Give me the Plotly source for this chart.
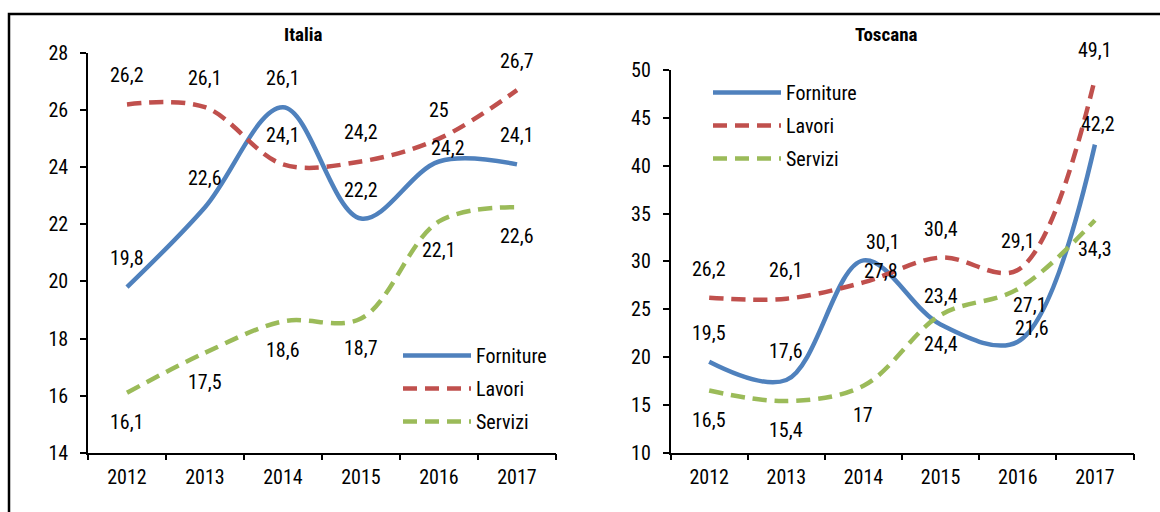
import plotly.graph_objects as go

years = ["2012", "2013", "2014", "2015", "2016", "2017"]

italia_forniture = [19.8, 22.6, 26.1, 22.2, 24.2, 24.1]
italia_lavori = [26.2, 26.1, 24.1, 24.2, 25, 26.7]
italia_servizi = [16.1, 17.5, 18.6, 18.7, 22.1, 22.6]

toscana_forniture = [19.5, 17.6, 30.1, 23.4, 21.6, 42.2]
toscana_lavori = [26.2, 26.1, 27.8, 30.4, 29.1, 49.1]
toscana_servizi = [16.5, 15.4, 17, 24.4, 27.1, 34.3]

series_names = ["Forniture", "Lavori", "Servizi"]
colors = {"Forniture": "#4F81BD", "Lavori": "#C0504D", "Servizi": "#9BBB59"}
dashes = {"Forniture": "solid", "Lavori": "14px,8px", "Servizi": "14px,8px"}
label_side = {"Forniture": 1, "Lavori": 1, "Servizi": -1}
# manual label nudges (panel, series, index) -> (xshift, yshift) in px, as placed in the original
label_nudge = {
    ("Italia", "Forniture", 4): (9, 13),
    ("Toscana", "Forniture", 2): (20, 18),
    ("Toscana", "Lavori", 2): (18, 11),
    ("Toscana", "Forniture", 5): (3, 21),
    ("Toscana", "Forniture", 4): (14, 14),
    ("Toscana", "Servizi", 4): (12, -16),
}

FONT = "Liberation Sans Narrow, Arial Narrow, Roboto Condensed, Roboto, sans-serif"
FS = 20
W, H = 1160, 512


def px_x(p):
    return p / W


def px_y(p):
    return (H - p) / H


fig = go.Figure()
annotations = []

panels = [
    ("Italia", "x", "y", "legend", {"Forniture": italia_forniture, "Lavori": italia_lavori, "Servizi": italia_servizi}),
    ("Toscana", "x2", "y2", "legend2", {"Forniture": toscana_forniture, "Lavori": toscana_lavori, "Servizi": toscana_servizi}),
]

for panel, xa, ya, lg, data in panels:
    for name in series_names:
        vals = data[name]
        fig.add_trace(go.Scatter(
            x=years, y=vals, name=name, mode="lines",
            line=dict(color=colors[name], width=4.5, dash=dashes[name], shape="spline", smoothing=1.0),
            xaxis=xa, yaxis=ya, legend=lg, legendgroup=lg + name,
            hoverinfo="skip",
        ))
        for i, v in enumerate(vals):
            xs, ys = label_nudge.get((panel, name, i), (0, 29))
            annotations.append(dict(
                x=i, y=v, xref=xa, yref=ya, text=f"{v:g}".replace(".", ","),
                showarrow=False, xshift=xs, yshift=ys * label_side[name] if (panel, name, i) not in label_nudge else ys,
                font=dict(family=FONT, size=FS, color="#000000"),
            ))

# titles
annotations.append(dict(x=px_x(303), y=px_y(34), xref="paper", yref="paper", text="<b>Italia</b>",
                        xanchor="center", yanchor="middle",
                        showarrow=False, font=dict(family=FONT, size=19, color="#000000")))
annotations.append(dict(x=px_x(886), y=px_y(34), xref="paper", yref="paper", text="<b>Toscana</b>",
                        xanchor="center", yanchor="middle",
                        showarrow=False, font=dict(family=FONT, size=19, color="#000000")))

axis_common = dict(showgrid=False, zeroline=False, showline=True, linecolor="#000000", linewidth=1.5,
                   ticks="outside", ticklen=6, tickwidth=1.5, tickcolor="#000000", automargin=False,
                   tickfont=dict(family=FONT, size=FS, color="#000000"))
inner_ticks = dict(showgrid=False, zeroline=False, showline=False, ticks="inside", ticklen=6, tickwidth=1.5,
                   tickcolor="#000000", showticklabels=False, automargin=False)

x1_dom = [px_x(88), px_x(556)]
x2_dom = [px_x(670.6), px_x(1133.5)]
y1_dom = [px_y(452.7), px_y(53)]
y2_dom = [px_y(452.7), px_y(70)]
bounds = [-0.5, 0.5, 1.5, 2.5, 3.5, 4.5, 5.5]

fig.update_layout(
    template="none",
    width=W, height=H,
    margin=dict(l=0, r=0, t=0, b=0, pad=0),
    paper_bgcolor="#FFFFFF", plot_bgcolor="rgba(0,0,0,0)",
    font=dict(family=FONT, size=FS, color="#000000"),
    xaxis=dict(domain=x1_dom, anchor="y", type="category", categoryorder="array", categoryarray=years,
               range=[-0.5, 5.5], tickson="boundaries", ticklabelstandoff=6, **axis_common),
    yaxis=dict(domain=y1_dom, anchor="x", range=[14, 28], dtick=2, ticklabelstandoff=8, **axis_common),
    xaxis2=dict(domain=x2_dom, anchor="y2", type="category", categoryorder="array", categoryarray=years,
                range=[-0.5, 5.5], tickson="boundaries", ticklabelstandoff=6, **axis_common),
    yaxis2=dict(domain=y2_dom, anchor="x2", range=[10, 50], dtick=5, ticklabelstandoff=8, **axis_common),
    xaxis3=dict(domain=x1_dom, anchor="y", overlaying="x", range=[-0.5, 5.5], tickmode="array",
                tickvals=bounds, **inner_ticks),
    yaxis3=dict(domain=y1_dom, anchor="x", overlaying="y", range=[14, 28], dtick=2, **inner_ticks),
    xaxis4=dict(domain=x2_dom, anchor="y2", overlaying="x2", range=[-0.5, 5.5], tickmode="array",
                tickvals=bounds, **inner_ticks),
    yaxis4=dict(domain=y2_dom, anchor="x2", overlaying="y2", range=[10, 50], dtick=5, **inner_ticks),
    legend=dict(x=px_x(398), y=px_y(336), xanchor="left", yanchor="top", bgcolor="rgba(0,0,0,0)",
                font=dict(family=FONT, size=FS, color="#000000"), tracegroupgap=4, itemwidth=68),
    legend2=dict(x=px_x(708), y=px_y(73), xanchor="left", yanchor="top", bgcolor="rgba(0,0,0,0)",
                 font=dict(family=FONT, size=FS, color="#000000"), tracegroupgap=4, itemwidth=68),
    annotations=annotations,
    shapes=[dict(type="rect", xref="paper", yref="paper", x0=px_x(9), x1=1.02, y0=-0.02, y1=px_y(14),
                 line=dict(color="#000000", width=2.5), fillcolor="rgba(0,0,0,0)", layer="below")],
    showlegend=True,
)

fig.write_html("out.html", config={"displayModeBar": False},
               post_script="document.body.style.margin='0';document.body.style.overflow='hidden';")
